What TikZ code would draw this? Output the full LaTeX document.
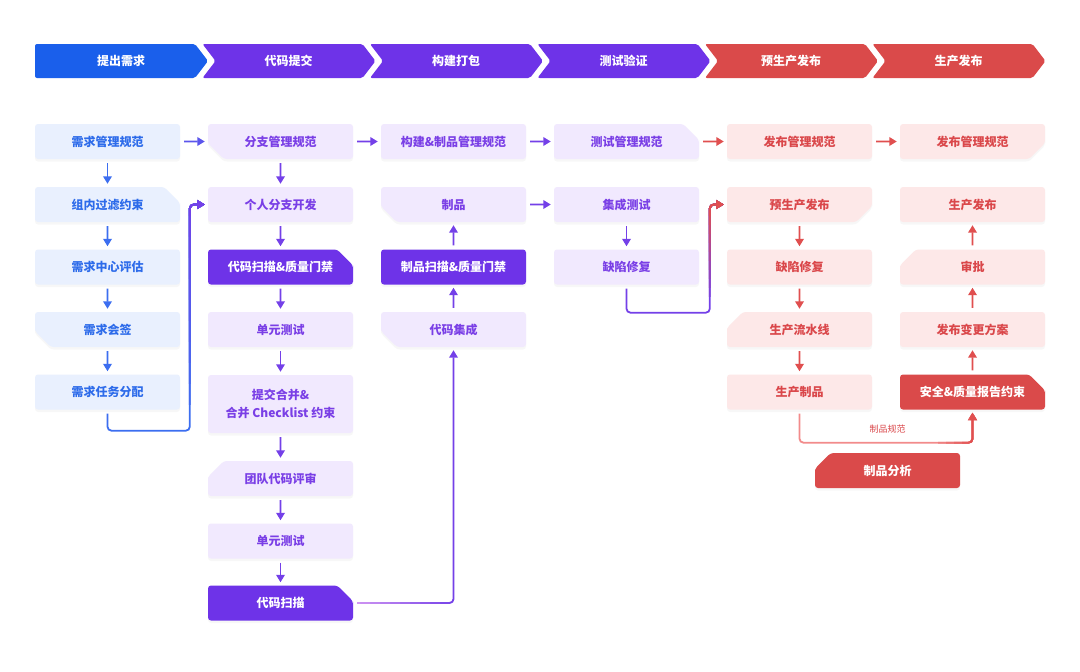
\documentclass[tikz,border=0pt]{standalone}
\usepackage{fontspec}
\setmainfont{Noto Sans CJK SC}
\usetikzlibrary{arrows.meta,calc,shapes.misc,shadows}
\definecolor{cblue}{HTML}{1A5FEB}
\definecolor{cpurple}{HTML}{6E33E8}
\definecolor{cred}{HTML}{DA4A4A}
\definecolor{lblue}{HTML}{E9F0FE}
\definecolor{lpurple}{HTML}{F1E9FE}
\definecolor{lred}{HTML}{FDE8E8}
\definecolor{tblue}{HTML}{2D6BEA}
\definecolor{tpurple}{HTML}{7A3FE6}
\definecolor{tred}{HTML}{DA474A}
\definecolor{ablue}{HTML}{3C6EF0}
\definecolor{apurple}{HTML}{7440E8}
\definecolor{ared}{HTML}{E04F4F}
\definecolor{alav}{HTML}{D197F2}
\definecolor{lightred}{HTML}{F28B8B}
\begin{document}
\begin{tikzpicture}[x=1pt,y=-1pt,
  box/.style={minimum width=145pt,minimum height=35pt,inner sep=0pt,rounded corners=3pt,align=center,
    font=\bfseries\fontsize{12}{18}\selectfont,
    drop shadow={shadow xshift=0pt,shadow yshift=-2.5pt,opacity=0.06}},
  bB/.style={box,fill=lblue,text=tblue},
  bP/.style={box,fill=lpurple,text=tpurple},
  bPD/.style={box,fill=cpurple,text=white},
  bR/.style={box,fill=lred,text=tred},
  bRD/.style={box,fill=cred,text=white},
  cut/.style={chamfered rectangle,chamfered rectangle corners=#1,
    chamfered rectangle xsep=11pt,chamfered rectangle ysep=10pt},
  banner/.style={text=white,font=\bfseries\fontsize{12}{14}\selectfont,inner sep=0pt},
  arr/.style={line width=1.8pt,-{Triangle[length=7.5pt,width=8.5pt]},shorten <=4pt,shorten >=3pt},
  aB/.style={arr,ablue},
  aP/.style={arr,apurple},
  aR/.style={arr,ared},
  route/.style={arr,rounded corners=4pt},
  lbl/.style={text=tred,font=\fontsize{9}{10}\selectfont,inner sep=1pt}
]
\useasboundingbox (0,0) rectangle (1080,672);
\fill[white] (0,0) rectangle (1080,672);

% banner
\foreach \i/\c/\t in {0/cblue/提出需求,1/cpurple/代码提交,2/cpurple/构建打包,3/cpurple/测试验证,4/cred/预生产发布,5/cred/生产发布}{
  \pgfmathsetmacro\L{35+167.5*\i}
  \ifnum\i=0
    \fill[\c,rounded corners=2pt] (\L,44) -- ++(160,0) -- ++(13,17) -- ++(-13,17) -- ++(-160,0) -- cycle;
  \else
    \fill[\c,rounded corners=2pt] (\L,44) -- ++(160,0) -- ++(13,17) -- ++(-13,17) -- ++(-160,0) -- ++(13,-17) -- cycle;
  \fi
  \node[banner] (h\i) at (\L+86,61) {\t};
}

% column 1
\node[bB] (c1r1) at (107.5,141.5) {需求管理规范};
\node[bB,cut=north east] (c1r2) at (107.5,204.5) {组内过滤约束};
\node[bB] (c1r3) at (107.5,267) {需求中心评估};
\node[bB,cut=south west] (c1r4) at (107.5,329.5) {需求会签};
\node[bB] (c1r5) at (107.5,392) {需求任务分配};
% column 2
\node[bP,cut=south west] (c2r1) at (280.5,141.5) {分支管理规范};
\node[bP] (c2r2) at (280.5,204.5) {个人分支开发};
\node[bPD,cut=north east] (c2r3) at (280.5,267) {代码扫描\&质量门禁};
\node[bP] (c2r4) at (280.5,329.5) {单元测试};
\node[bP,minimum height=58pt] (c2r5) at (280.5,404) {提交合并\&\\合并 Checklist 约束};
\node[bP,cut=north west] (c2r6) at (280.5,478.5) {团队代码评审};
\node[bP] (c2r7) at (280.5,541) {单元测试};
\node[bPD,cut=north east] (c2r8) at (280.5,603) {代码扫描};
% column 3
\node[bP] (c3r1) at (453.5,141.5) {构建\&制品管理规范};
\node[bP,cut=south west] (c3r2) at (453.5,204.5) {制品};
\node[bPD] (c3r3) at (453.5,267) {制品扫描\&质量门禁};
\node[bP,cut=south west] (c3r4) at (453.5,329.5) {代码集成};
% column 4
\node[bP,cut=north east] (c4r1) at (626.5,141.5) {测试管理规范};
\node[bP] (c4r2) at (626.5,204.5) {集成测试};
\node[bP] (c4r3) at (626.5,267) {缺陷修复};
% column 5
\node[bR] (c5r1) at (799.5,141.5) {发布管理规范};
\node[bR,cut=south east] (c5r2) at (799.5,204.5) {预生产发布};
\node[bR] (c5r3) at (799.5,267) {缺陷修复};
\node[bR,cut=north west] (c5r4) at (799.5,329.5) {生产流水线};
\node[bR] (c5r5) at (799.5,392) {生产制品};
% column 6
\node[bR,cut=south east] (c6r1) at (972.5,141.5) {发布管理规范};
\node[bR] (c6r2) at (972.5,204.5) {生产发布};
\node[bR,cut=north west] (c6r3) at (972.5,267) {审批};
\node[bR] (c6r4) at (972.5,329.5) {发布变更方案};
\node[bRD,cut=north east] (c6r5) at (972.5,392) {安全\&质量报告约束};
\node[bRD,cut=north west] (c7) at (887.5,470.5) {制品分析};

% straight arrows
\foreach \a/\b in {c1r1/c1r2,c1r2/c1r3,c1r3/c1r4,c1r4/c1r5} \draw[aB] (\a) -- (\b);
\foreach \a/\b in {c2r1/c2r2,c2r2/c2r3,c2r3/c2r4,c2r4/c2r5,c2r5/c2r6,c2r6/c2r7,c2r7/c2r8,
  c3r4/c3r3,c3r3/c3r2,c3r2/c4r2,c2r1/c3r1,c3r1/c4r1,c4r2/c4r3} \draw[aP] (\a) -- (\b);
\foreach \a/\b in {c4r1/c5r1,c5r1/c6r1,c5r2/c5r3,c5r3/c5r4,c5r4/c5r5,c6r5/c6r4,c6r4/c6r3,c6r3/c6r2} \draw[aR] (\a) -- (\b);
\draw[arr,ablue!45!apurple] (c1r1) -- (c2r1);

% route 1: blue -> purple
\draw[route,ablue] (c1r5.south) -- ++(0,21) -| ($(c2r2.west)+(-18,0)$) -- (c2r2.west);
\foreach \k in {1,...,10}{
  \pgfmathtruncatemacro\pc{100-10*\k}
  \pgfmathsetmacro\yk{425-21*\k}
  \begin{scope}
    \clip (150,0) rectangle (1080,\yk);
    \draw[route,ablue!\pc!apurple] (c1r5.south) -- ++(0,21) -| ($(c2r2.west)+(-18,0)$) -- (c2r2.west);
  \end{scope}
}
% route 2: lavender -> purple
\draw[route,apurple] (c2r8.east) -| (c3r4.south);
\foreach \k in {1,...,10}{
  \pgfmathtruncatemacro\pc{100-10*\k}
  \pgfmathsetmacro\xk{450-10*(\k-1)}
  \begin{scope}
    \clip (0,560) rectangle (\xk,672);
    \draw[route,apurple!\pc!alav] (c2r8.east) -| (c3r4.south);
  \end{scope}
}
% route 3: purple -> red
\draw[route,apurple] (c4r3.south) -- ++(0,28) -| ($(c5r2.west)+(-17,0)$) -- (c5r2.west);
\foreach \k in {1,...,10}{
  \pgfmathtruncatemacro\pc{100-10*\k}
  \pgfmathsetmacro\yk{305-9*\k}
  \begin{scope}
    \clip (660,0) rectangle (1080,\yk);
    \draw[route,apurple!\pc!ared] (c4r3.south) -- ++(0,28) -| ($(c5r2.west)+(-17,0)$) -- (c5r2.west);
  \end{scope}
}
% route 4: product spec
\draw[route,lightred] (c5r5.south) -- ++(0,33) -| (c6r5.south);
\foreach \k in {1,...,5}{
  \pgfmathtruncatemacro\pc{100-20*\k}
  \pgfmathsetmacro\xk{930+8*\k}
  \begin{scope}
    \clip (\xk,380) rectangle (1080,460);
    \draw[route,lightred!\pc!ared] (c5r5.south) -- ++(0,33) -| (c6r5.south);
  \end{scope}
}
\node[lbl] (spec) at (887.5,429) {制品规范};
\end{tikzpicture}
\end{document}
